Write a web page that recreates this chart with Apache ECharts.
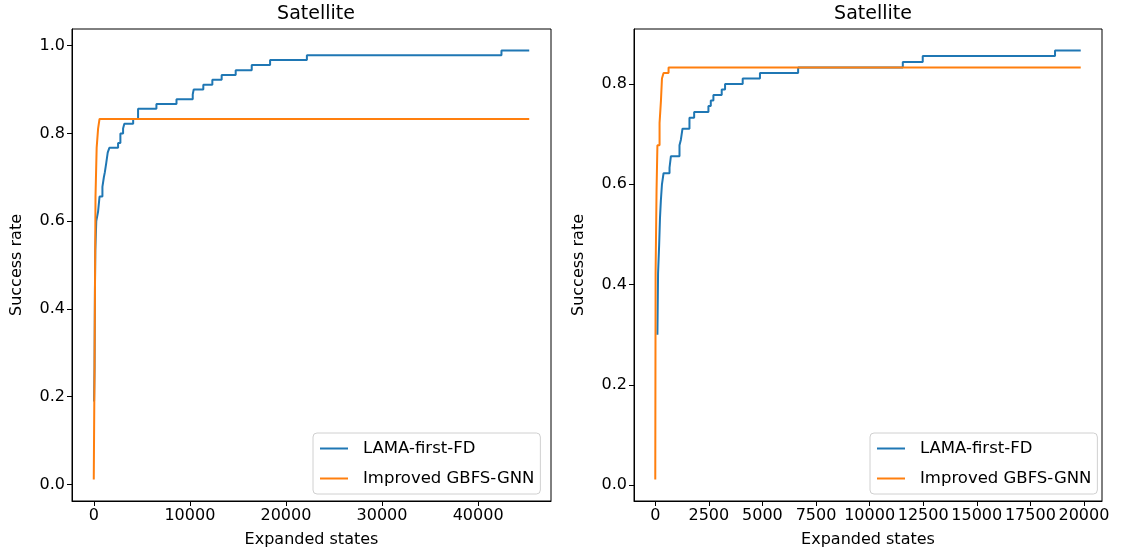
<!DOCTYPE html>
<html>
<head>
<meta charset="utf-8">
<title>Satellite</title>
<script src="https://cdn.jsdelivr.net/npm/echarts@6/dist/echarts.min.js"></script>
<style>
  html, body { margin: 0; padding: 0; background: #fff; }
  #chart { width: 1125px; height: 554px; }
</style>
</head>
<body>
<div id="chart"></div>
<script>
// series data: [expanded states, success rate]; each point is where the rate steps up
const leftLama = [
  [30, 0.189], [80, 0.267], [120, 0.444], [160, 0.533], [260, 0.6], [450, 0.622],
  [600, 0.656], [900, 0.678], [1050, 0.7], [1150, 0.711], [1300, 0.733], [1450, 0.756],
  [1620, 0.767], [2530, 0.778], [2770, 0.8], [3050, 0.811], [3180, 0.822], [4100, 0.833],
  [4610, 0.856], [6520, 0.867], [8610, 0.878], [10300, 0.889], [10400, 0.9], [11400, 0.911],
  [12340, 0.922], [13310, 0.933], [14770, 0.944], [16440, 0.956], [18350, 0.967],
  [22180, 0.978], [42430, 0.989], [45320, 0.989]
];
const leftGnn = [
  [0, 0.011], [80, 0.267], [180, 0.656], [300, 0.767], [450, 0.811], [600, 0.833], [45320, 0.833]
];
const rightLama = [
  [100, 0.3], [130, 0.422], [180, 0.478], [220, 0.533], [260, 0.567], [312, 0.6], [386, 0.622],
  [665, 0.633], [730, 0.656], [1130, 0.678], [1195, 0.689], [1270, 0.711], [1595, 0.733],
  [1814, 0.744], [2480, 0.756], [2590, 0.767], [2712, 0.778], [3100, 0.789], [3256, 0.8],
  [4079, 0.811], [4884, 0.822], [6665, 0.833], [11549, 0.844], [12479, 0.856],
  [18651, 0.867], [19850, 0.867]
];
const rightGnn = [
  [0, 0.011], [15, 0.422], [60, 0.589], [100, 0.678], [200, 0.722], [265, 0.767],
  [312, 0.811], [386, 0.822], [620, 0.833], [19850, 0.833]
];

const seriesNames = ['LAMA-first-FD', 'Improved GBFS-GNN'];
const leftXTicks = [0, 10000, 20000, 30000, 40000];
const rightXTicks = [0, 2500, 5000, 7500, 10000, 12500, 15000, 17500, 20000];
const leftYTicks = [0, 0.2, 0.4, 0.6, 0.8, 1.0];
const rightYTicks = [0, 0.2, 0.4, 0.6, 0.8];

const FONT = 'DejaVu Sans';
const FS = 16;
const BLUE = '#1f77b4';
const ORANGE = '#ff7f0e';

// matplotlib style limits: 5% margin around the data
function pad(lo, hi) {
  const r = hi - lo;
  return { min: lo - 0.05 * r, max: hi + 0.05 * r };
}
function extent(arrs, idx) {
  const vals = arrs.flat().map(p => p[idx]);
  return pad(Math.min(...vals), Math.max(...vals));
}

function xAxisFor(gridIndex, ticks, lim) {
  return {
    type: 'value', gridIndex, min: lim.min, max: lim.max,
    name: 'Expanded states', nameLocation: 'middle', nameGap: 31,
    nameTextStyle: { fontFamily: FONT, fontSize: FS, color: '#000' },
    axisLine: { show: true, onZero: false, lineStyle: { color: '#000', width: 1 } },
    axisTick: { show: true, length: 5, lineStyle: { color: '#000' }, customValues: ticks },
    axisLabel: { fontFamily: FONT, fontSize: FS, color: '#000', margin: 7,
      customValues: ticks, formatter: v => String(Math.round(v)) },
    splitLine: { show: false }
  };
}
function yAxisFor(gridIndex, ticks, lim) {
  return {
    type: 'value', gridIndex, min: lim.min, max: lim.max,
    name: 'Success rate', nameLocation: 'middle', nameGap: 47,
    nameTextStyle: { fontFamily: FONT, fontSize: FS, color: '#000' },
    axisLine: { show: true, onZero: false, lineStyle: { color: '#000', width: 1 } },
    axisTick: { show: true, length: 5, lineStyle: { color: '#000' }, customValues: ticks },
    axisLabel: { fontFamily: FONT, fontSize: FS, color: '#000', margin: 7,
      customValues: ticks, formatter: v => v.toFixed(1) },
    splitLine: { show: false }
  };
}
function lineSeries(name, data, color, idx) {
  return {
    type: 'line', name, data, step: 'end', showSymbol: false,
    xAxisIndex: idx, yAxisIndex: idx,
    lineStyle: { color, width: 2 }, itemStyle: { color }
  };
}
function legendAt(left) {
  return {
    data: seriesNames, orient: 'vertical', left, top: 433,
    icon: 'rect', itemWidth: 28, itemHeight: 2, itemGap: 11,
    padding: [6, 6, 6, 7],
    backgroundColor: '#fff', borderColor: '#d0d0d0', borderWidth: 1, borderRadius: 4,
    textStyle: { fontFamily: FONT, fontSize: 16.5, color: '#000', lineHeight: 19, padding: [0, 0, 0, 10] }
  };
}

const leftX = extent([leftLama, leftGnn], 0);
const leftY = extent([leftLama, leftGnn], 1);
const rightX = extent([rightLama, rightGnn], 0);
const rightY = extent([rightLama, rightGnn], 1);

const chart = echarts.init(document.getElementById('chart'));
chart.setOption({
  animation: false,
  backgroundColor: '#fff',
  title: [
    { text: 'Satellite', left: 311, top: 0, textAlign: 'center',
      textStyle: { fontFamily: FONT, fontSize: 19, fontWeight: 'normal', color: '#000' } },
    { text: 'Satellite', left: 868, top: 0, textAlign: 'center',
      textStyle: { fontFamily: FONT, fontSize: 19, fontWeight: 'normal', color: '#000' } }
  ],
  legend: [legendAt(313), legendAt(870)],
  grid: [
    { left: 72, top: 29, width: 479, height: 472, show: true, borderColor: '#000', borderWidth: 1, containLabel: false },
    { left: 634, top: 29, width: 468, height: 472, show: true, borderColor: '#000', borderWidth: 1, containLabel: false }
  ],
  xAxis: [xAxisFor(0, leftXTicks, leftX), xAxisFor(1, rightXTicks, rightX)],
  yAxis: [yAxisFor(0, leftYTicks, leftY), yAxisFor(1, rightYTicks, rightY)],
  series: [
    lineSeries(seriesNames[0], leftLama, BLUE, 0),
    lineSeries(seriesNames[1], leftGnn, ORANGE, 0),
    lineSeries(seriesNames[0], rightLama, BLUE, 1),
    lineSeries(seriesNames[1], rightGnn, ORANGE, 1)
  ]
});
</script>
</body>
</html>
